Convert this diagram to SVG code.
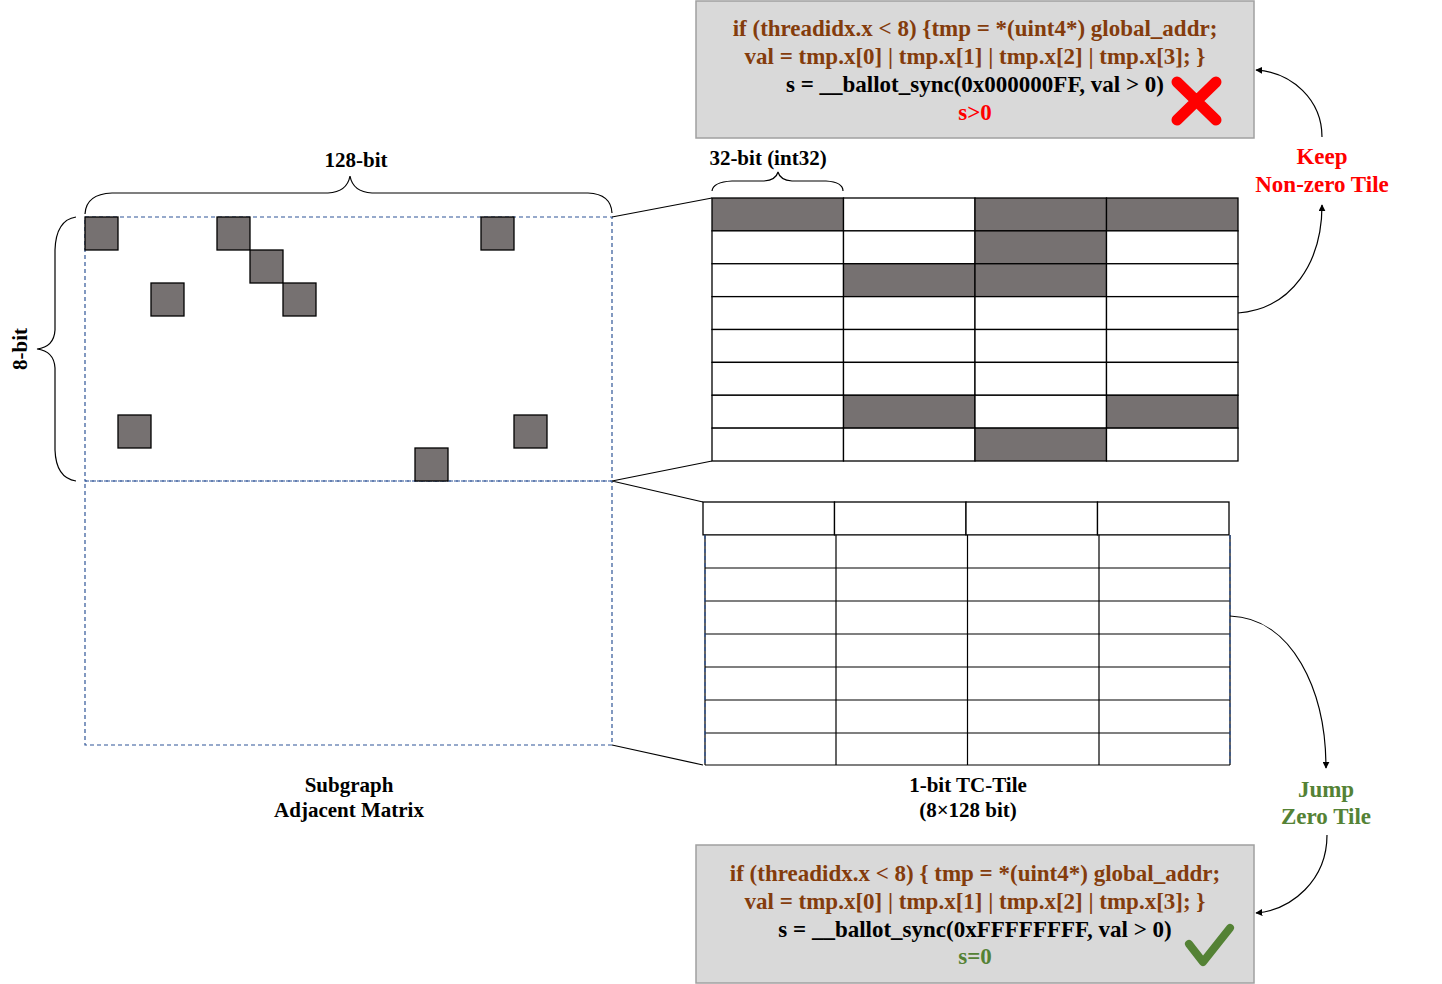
<svg xmlns="http://www.w3.org/2000/svg" width="1442" height="984" viewBox="0 0 1442 984">
<defs>
<style>
text{font-family:"Liberation Serif","Times New Roman",serif;font-weight:bold;text-anchor:middle}
.lbl{font-size:21px;fill:#000}
.code{font-size:23px}
.br{fill:#843C0C}
.bk{fill:#000}
.red{fill:#FF0000}
.grn{fill:#548235}
.cl{font-size:23px}
.cell{fill:#fff;stroke:#000;stroke-width:1.3}
.on{fill:#767171;stroke:#000;stroke-width:1.3}
.sq{fill:#767171;stroke:#000;stroke-width:1.3}
.dash{fill:none;stroke:#2F5597;stroke-width:1.2;stroke-dasharray:4,3}
.box{fill:#D9D9D9;stroke:#A0A0A0;stroke-width:1.5}
.ln{fill:none;stroke:#000;stroke-width:1.2}
.arr{fill:none;stroke:#000;stroke-width:1.2;marker-end:url(#ah)}
.brace{fill:none;stroke:#000;stroke-width:1.2}
</style>
<marker id="ah" viewBox="0 0 10 10" refX="9" refY="5" markerWidth="7" markerHeight="7" markerUnits="userSpaceOnUse" orient="auto">
<path d="M0,0 L10,5 L0,10 z" fill="#000"/>
</marker>
</defs>
<rect width="1442" height="984" fill="#fff"/>

<g id="matrix">
<rect class="dash" x="85" y="217" width="527" height="264"/>
<rect class="dash" x="85" y="481" width="527" height="264"/>
<rect class="sq" x="85" y="217" width="33" height="33"/>
<rect class="sq" x="217" y="217" width="33" height="33"/>
<rect class="sq" x="481" y="217" width="33" height="33"/>
<rect class="sq" x="250" y="250" width="33" height="33"/>
<rect class="sq" x="151" y="283" width="33" height="33"/>
<rect class="sq" x="283" y="283" width="33" height="33"/>
<rect class="sq" x="118" y="415" width="33" height="33"/>
<rect class="sq" x="514" y="415" width="33" height="33"/>
<rect class="sq" x="415" y="448" width="33" height="33"/>
</g>

<g id="brace-128">
<path class="brace" d="M85,214 Q86,194 112,193 L328,193 Q347,192 350,176 Q353,192 372,193 L588,193 Q611,194 612,213"/>
<text class="lbl" x="356" y="167">128-bit</text>
</g>
<g id="brace-8">
<path class="brace" d="M76,217 Q56,220 55,250 L55,330 Q54,347 37,349 Q54,351 55,368 L55,450 Q56,478 76,481"/>
<text class="lbl" transform="translate(27,349) rotate(-90)" x="0" y="0">8-bit</text>
</g>
<g id="brace-32">
<path class="brace" d="M712,191 Q713,182 732,181 L764,181 Q776,180 778,172 Q780,180 792,181 L826,181 Q843,182 843,191"/>
<text class="lbl" x="768" y="165">32-bit (int32)</text>
</g>

<g id="tile-top">
<rect class="on" x="712" y="198" width="131.5" height="32.875"/>
<rect class="cell" x="843.5" y="198" width="131.5" height="32.875"/>
<rect class="on" x="975" y="198" width="131.5" height="32.875"/>
<rect class="on" x="1106.5" y="198" width="131.5" height="32.875"/>
<rect class="cell" x="712" y="230.875" width="131.5" height="32.875"/>
<rect class="cell" x="843.5" y="230.875" width="131.5" height="32.875"/>
<rect class="on" x="975" y="230.875" width="131.5" height="32.875"/>
<rect class="cell" x="1106.5" y="230.875" width="131.5" height="32.875"/>
<rect class="cell" x="712" y="263.75" width="131.5" height="32.875"/>
<rect class="on" x="843.5" y="263.75" width="131.5" height="32.875"/>
<rect class="on" x="975" y="263.75" width="131.5" height="32.875"/>
<rect class="cell" x="1106.5" y="263.75" width="131.5" height="32.875"/>
<rect class="cell" x="712" y="296.625" width="131.5" height="32.875"/>
<rect class="cell" x="843.5" y="296.625" width="131.5" height="32.875"/>
<rect class="cell" x="975" y="296.625" width="131.5" height="32.875"/>
<rect class="cell" x="1106.5" y="296.625" width="131.5" height="32.875"/>
<rect class="cell" x="712" y="329.5" width="131.5" height="32.875"/>
<rect class="cell" x="843.5" y="329.5" width="131.5" height="32.875"/>
<rect class="cell" x="975" y="329.5" width="131.5" height="32.875"/>
<rect class="cell" x="1106.5" y="329.5" width="131.5" height="32.875"/>
<rect class="cell" x="712" y="362.375" width="131.5" height="32.875"/>
<rect class="cell" x="843.5" y="362.375" width="131.5" height="32.875"/>
<rect class="cell" x="975" y="362.375" width="131.5" height="32.875"/>
<rect class="cell" x="1106.5" y="362.375" width="131.5" height="32.875"/>
<rect class="cell" x="712" y="395.25" width="131.5" height="32.875"/>
<rect class="on" x="843.5" y="395.25" width="131.5" height="32.875"/>
<rect class="cell" x="975" y="395.25" width="131.5" height="32.875"/>
<rect class="on" x="1106.5" y="395.25" width="131.5" height="32.875"/>
<rect class="cell" x="712" y="428.125" width="131.5" height="32.875"/>
<rect class="cell" x="843.5" y="428.125" width="131.5" height="32.875"/>
<rect class="on" x="975" y="428.125" width="131.5" height="32.875"/>
<rect class="cell" x="1106.5" y="428.125" width="131.5" height="32.875"/>
</g>

<g id="tile-bottom">
<rect class="cell" x="703" y="502" width="131.5" height="32.875"/>
<rect class="cell" x="834.5" y="502" width="131.5" height="32.875"/>
<rect class="cell" x="966" y="502" width="131.5" height="32.875"/>
<rect class="cell" x="1097.5" y="502" width="131.5" height="32.875"/>
<path class="ln" d="M705,568 H1230 M705,601 H1230 M705,634 H1230 M705,667 H1230 M705,700 H1230 M705,733 H1230 M705,765 H1230 M836,535 V765 M967.5,535 V765 M1099,535 V765"/>
<path class="ln" d="M705,535 V765 M1230,535 V765" stroke="#555"/>
<path class="dash" d="M705,535 V765 M1230,535 V765"/>
</g>

<g id="connectors">
<path class="ln" d="M612,217 L712,198 M612,481 L712,461 M612,481 L703,502 M612,745 L703,765"/>
<path class="arr" d="M1238,313 C1292,309 1322,262 1322,205"/>
<path class="arr" d="M1322,137 C1322,100 1292,72 1256,70"/>
<path class="arr" d="M1230,616 C1292,618 1326,690 1326,768"/>
<path class="arr" d="M1327,835 C1327,880 1292,910 1256,913"/>
</g>

<g id="label-keep">
<text class="cl red" x="1322" y="164">Keep</text>
<text class="cl red" x="1322" y="192">Non-zero Tile</text>
</g>
<g id="label-jump">
<text class="cl grn" x="1326" y="797">Jump</text>
<text class="cl grn" x="1326" y="824">Zero Tile</text>
</g>
<g id="label-subgraph">
<text class="lbl" x="349" y="792">Subgraph</text>
<text class="lbl" x="349" y="817">Adjacent Matrix</text>
</g>
<g id="label-tile">
<text class="lbl" x="968" y="792">1-bit TC-Tile</text>
<text class="lbl" x="968" y="817">(8×128 bit)</text>
</g>

<g id="code-top">
<rect class="box" x="696" y="1" width="558" height="137"/>
<text class="code br" x="975" y="36">if (threadidx.x &lt; 8) {tmp = *(uint4*) global_addr;</text>
<text class="code br" x="975" y="64">val = tmp.x[0] | tmp.x[1] | tmp.x[2] | tmp.x[3]; }</text>
<text class="code bk" x="975" y="92">s = __ballot_sync(0x000000FF, val &gt; 0)</text>
<text class="code red" x="975" y="120">s&gt;0</text>
<path d="M1177,82 L1216,120 M1216,82 L1177,120" stroke="#FF0000" stroke-width="11" stroke-linecap="round" fill="none"/>
</g>

<g id="code-bottom">
<rect class="box" x="696" y="845" width="558" height="138"/>
<text class="code br" x="975" y="881">if (threadidx.x &lt; 8) { tmp = *(uint4*) global_addr;</text>
<text class="code br" x="975" y="909">val = tmp.x[0] | tmp.x[1] | tmp.x[2] | tmp.x[3]; }</text>
<text class="code bk" x="975" y="937">s = __ballot_sync(0xFFFFFFFF, val &gt; 0)</text>
<text class="code grn" x="975" y="964">s=0</text>
<path d="M1189,944 L1203,962 L1230,928" stroke="#548235" stroke-width="8" stroke-linecap="round" stroke-linejoin="round" fill="none"/>
</g>
</svg>
